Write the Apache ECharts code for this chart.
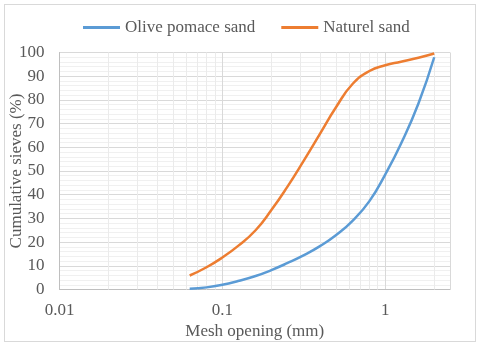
<!DOCTYPE html>
<html>
<head>
<meta charset="utf-8">
<script src="https://cdn.jsdelivr.net/npm/echarts@6/dist/echarts.min.js"></script>
<style>
  body { margin: 0; background: #fff; }
  #main { position: absolute; left: 0; top: 0; width: 480px; height: 347px; }
  #frame { position: absolute; left: 4px; top: 4px; width: 470px; height: 336px; border: 1px solid #d9d9d9; pointer-events: none; }
</style>
</head>
<body>
<div id="main"></div>
<div id="frame"></div>
<script>
// mesh openings (mm)
var meshSizes = [0.063, 0.08, 0.1, 0.125, 0.16, 0.2, 0.25, 0.315, 0.4, 0.5, 0.63, 0.8, 1, 1.25, 1.6, 2];
// cumulative passing (%)
var olivePomace = [0.3, 0.9, 2.0, 3.6, 5.7, 8.2, 11.1, 14.4, 18.4, 23.0, 29.0, 37.3, 48.5, 61.5, 78.5, 98.0];
var naturelSand = [5.9, 9.4, 13.5, 18.4, 25.0, 33.5, 43.2, 54.2, 66.0, 77.0, 86.7, 92.2, 94.6, 96.1, 97.8, 99.6];
// minor log gridlines on x
var minorX = [0.02, 0.03, 0.04, 0.05, 0.06, 0.07, 0.08, 0.09, 0.2, 0.3, 0.4, 0.5, 0.6, 0.7, 0.8, 0.9, 2];

var font = '"Liberation Serif", "DejaVu Serif", serif';
var textColor = '#595959';

function pairs(xs, ys) {
  return xs.map(function (x, i) { return [x, ys[i]]; });
}

var chart = echarts.init(document.getElementById('main'));
chart.setOption({
  animation: false,
  legend: {
    left: 78,
    top: 14,
    itemWidth: 37,
    itemHeight: 3,
    itemGap: 26,
    icon: 'rect',
    textStyle: { fontFamily: font, fontSize: 17, color: textColor },
    data: ['Olive pomace sand', 'Naturel sand']
  },
  grid: {
    left: 59.5,
    right: 30,
    top: 52.5,
    bottom: 57.5,
    outerBoundsMode: 'none'
  },
  xAxis: {
    type: 'log',
    logBase: 10,
    min: 0.01,
    max: 2.5,
    name: 'Mesh opening (mm)',
    nameLocation: 'middle',
    nameGap: 34,
    nameMoveOverlap: false,
    nameTextStyle: { fontFamily: font, fontSize: 17, color: textColor },
    axisLine: { lineStyle: { color: '#bfbfbf', width: 1 } },
    axisTick: { show: false },
    axisLabel: {
      fontFamily: font,
      fontSize: 17,
      color: textColor,
      margin: 13,
      showMaxLabel: false,
      formatter: function (v) {
        var p = Math.log10(v);
        if (Math.abs(p - Math.round(p)) > 1e-6) return '';
        return String(+Number(v).toPrecision(3));
      }
    },
    splitLine: { show: true, lineStyle: { color: '#d9d9d9', width: 1 } }
  },
  yAxis: {
    type: 'value',
    min: 0,
    max: 100,
    interval: 10,
    name: 'Cumulative sieves (%)',
    nameLocation: 'middle',
    nameGap: 34,
    nameMoveOverlap: false,
    nameTextStyle: { fontFamily: font, fontSize: 17, color: textColor },
    axisLine: { show: true, lineStyle: { color: '#bfbfbf', width: 1 } },
    axisTick: { show: false },
    axisLabel: { fontFamily: font, fontSize: 17, color: textColor, margin: 15 },
    splitLine: { lineStyle: { color: '#d9d9d9', width: 1 } },
    minorTick: { show: false, splitNumber: 5 },
    minorSplitLine: { show: true, lineStyle: { color: '#f0f0f0', width: 1 } }
  },
  series: [
    {
      name: 'Olive pomace sand',
      type: 'line',
      smooth: 0.5,
      showSymbol: false,
      z: 3,
      itemStyle: { color: '#5b9bd5' },
      lineStyle: { color: '#5b9bd5', width: 2.5 },
      data: pairs(meshSizes, olivePomace),
      markLine: {
        silent: true,
        symbol: 'none',
        label: { show: false },
        z: 1,
        lineStyle: { color: '#ebebeb', width: 1, type: 'solid' },
        data: minorX.map(function (x) { return { xAxis: x }; })
      }
    },
    {
      name: 'Naturel sand',
      type: 'line',
      smooth: 0.5,
      showSymbol: false,
      z: 3,
      itemStyle: { color: '#ed7d31' },
      lineStyle: { color: '#ed7d31', width: 2.5 },
      data: pairs(meshSizes, naturelSand)
    }
  ]
});
</script>
</body>
</html>
